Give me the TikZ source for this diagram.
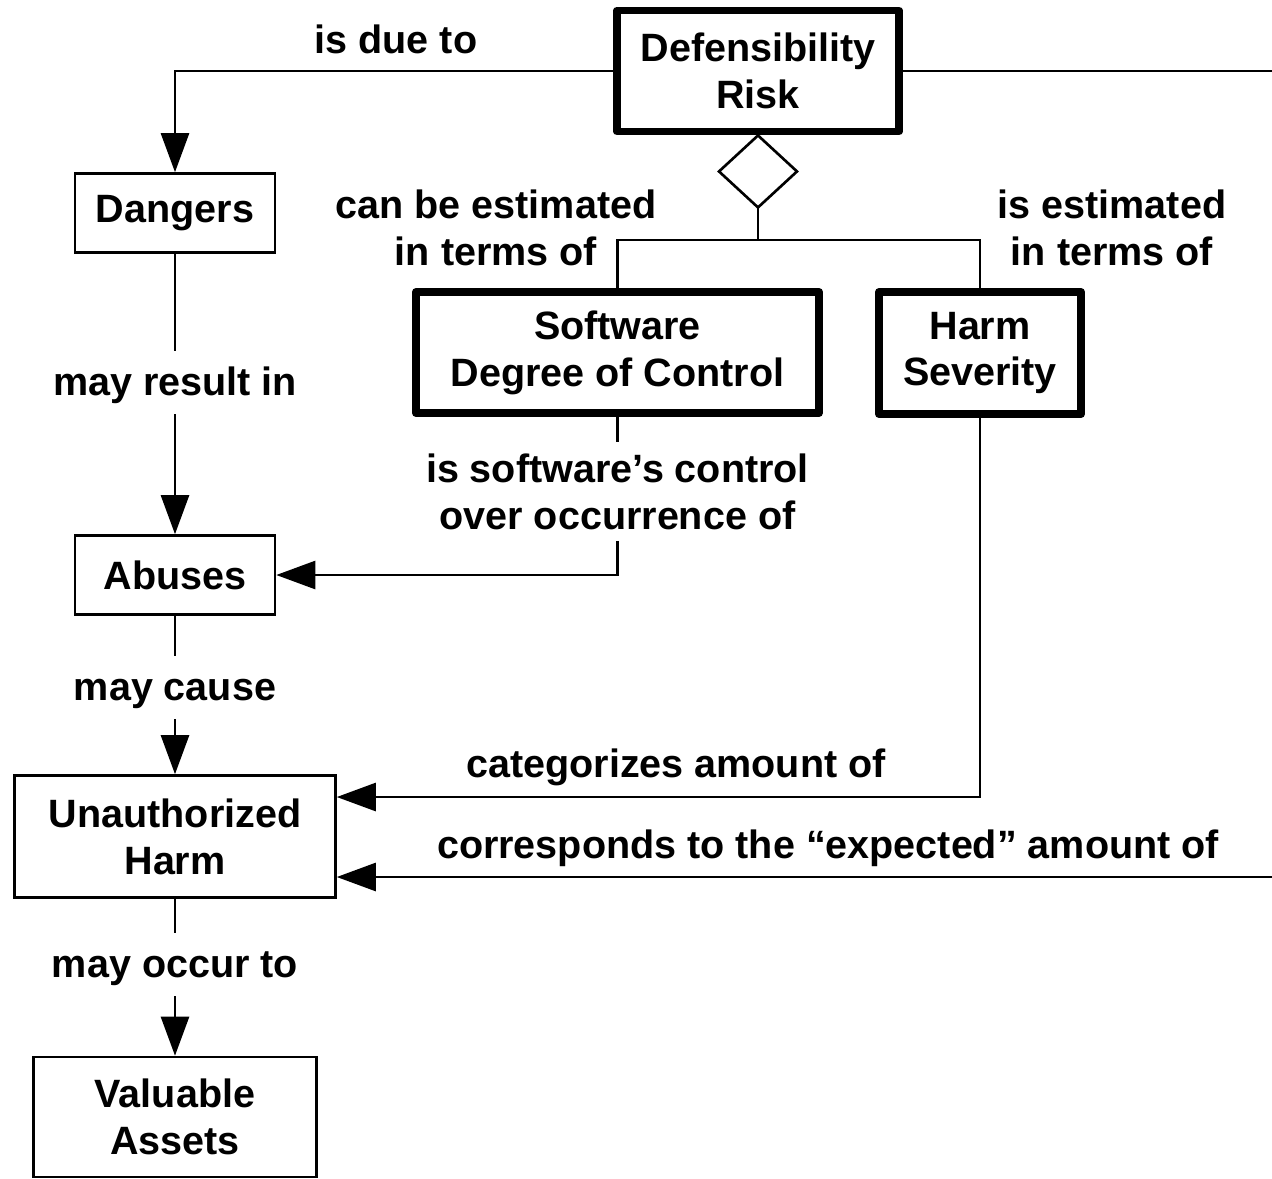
\documentclass[tikz,border=0pt]{standalone}
\usepackage{fontspec}
\setmainfont{Liberation Sans}
\usetikzlibrary{arrows.meta, positioning, shapes.geometric, calc}

\begin{document}
\begin{tikzpicture}[
            x=0.02cm, y=-0.02cm,
            line width=1.5pt,
            font=\bfseries\fontsize{22.5}{26.7}\selectfont,
            block/.style={rectangle, draw, line width=1.5pt, align=center, minimum width=4cm, minimum height=1.58cm},
            keyblock/.style={rectangle, draw, line width=4.5pt, line join=round, align=center, minimum height=2.42cm},
            arr/.style={-{Triangle[length=0.78cm, width=0.56cm]}},
            lbl/.style={align=center, inner sep=0pt},
            gaplbl/.style={inner sep=0pt, text height=0.86cm, text depth=0.36cm, anchor=base}
        ]
        \useasboundingbox (0,0) rectangle (1272,1178);

        % main boxes
        \node[keyblock, minimum width=5.64cm] (risk) at (758,71) {Defensibility\\Risk};
        \node[draw, diamond, inner sep=0pt, outer sep=0pt, minimum width=1.56cm, minimum height=1.44cm, anchor=north] (agg) at (risk.south) {};
        \node[keyblock, minimum width=8.06cm] (sdc) at (617.5,352.5) {Software\\Degree of Control};
        \node[keyblock, minimum width=4.04cm, minimum height=2.44cm] (severity) at (980,353) {Harm\\Severity};

        \node[block] (danger) at (175,213) {Dangers};
        \node[block] (abuses) at (175,575) {Abuses};
        \node[block, minimum width=6.42cm, minimum height=2.44cm] (uharm) at (175,836.5) {Unauthorized\\Harm};
        \node[block, minimum width=5.66cm, minimum height=2.4cm] (assets) at (175,1117) {Valuable\\Assets};

        % labels that break the vertical lines
        \node[gaplbl] (resultin) at (175,395) {may result in};
        \node[gaplbl] (cause) at (175,700) {may cause};
        \node[gaplbl] (occur) at (175,977) {may occur to};
        \node[lbl, inner ysep=0.2cm] (ctrl) at (617.5,491.5) {is software’s control\\over occurrence of};

        \coordinate (split) at (758,240);
        \coordinate (rim) at (1280,500);

        \draw[arr] (risk.west) -| (danger.north);
        \draw[arr] (risk.east) -| (rim) |- ([yshift=-0.81cm]uharm.east);

        \draw (agg.south) -- (split);
        \draw (sdc.north) |- (split) -| (severity.north);

        \draw (sdc.south) -- (ctrl.north);
        \draw[arr] (ctrl.south) |- (abuses.east);
        \draw[arr] (severity.south) |- ([yshift=0.79cm]uharm.east);

        \draw (danger.south) -- (resultin.north);
        \draw[arr] (resultin.south) -- (abuses.north);
        \draw (abuses.south) -- (cause.north);
        \draw[arr] (cause.south) -- (uharm.north);
        \draw (uharm.south) -- (occur.north);
        \draw[arr] (occur.south) -- (assets.north);

        % connector texts
        \node[lbl, anchor=base] (dueto) at (396,53) {is due to};
        \node[lbl] (canest) at (496,228) {can be estimated\\in terms of};
        \node[lbl] (isest) at (1112,228) {is estimated\\in terms of};
        \node[lbl, anchor=base] (categ) at (676,777) {categorizes amount of};
        \node[lbl, anchor=base] (expect) at (828,858) {corresponds to the “expected” amount of};

    \end{tikzpicture}
\end{document}
